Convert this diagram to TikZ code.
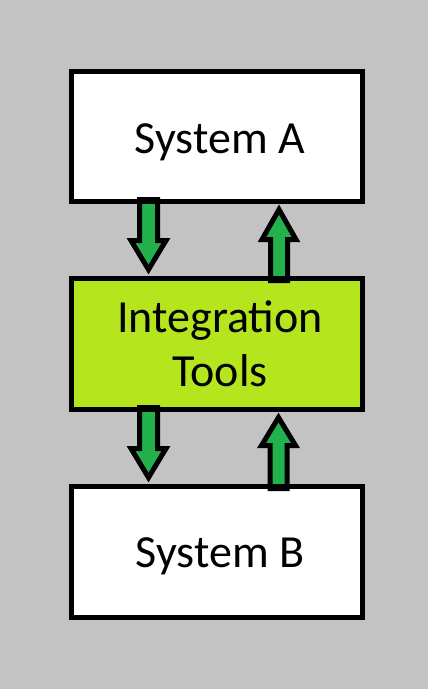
\documentclass[tikz,border=0pt]{standalone}
\usepackage{fontspec}
\setmainfont{Carlito}
\usetikzlibrary{calc}
\definecolor{bggray}{HTML}{C3C3C3}
\definecolor{arrowgreen}{HTML}{22B14C}
\definecolor{limegreen}{HTML}{B5E61D}
\tikzset{
  sysbox/.style={draw=black, line width=5pt, fill=white, minimum width=291pt,
    minimum height=131pt, inner sep=0pt, outer sep=0pt, align=center,
    font=\fontsize{46}{53}\selectfont},
  blockarrow/.style={draw=black, line width=5pt, fill=arrowgreen, line join=miter}
}
\begin{document}
\begin{tikzpicture}[x=1pt, y=-1pt]
  \fill[bggray] (0,0) rectangle (428,689);
  \useasboundingbox (0,0) rectangle (428,689);
  \node[sysbox, minimum height=130pt, text height=33pt, text depth=0pt] (A) at (217,136.5) {\hspace*{6pt}System A};
  \node[sysbox, fill=limegreen] (I) at (217,344) {\raisebox{1pt}{\hspace*{6pt}Integration}\\\hspace*{6pt}Tools};
  \node[sysbox, text height=31pt, text depth=0pt] (B) at (217,552) {\hspace*{6pt}System B};
  % anchor points of the arrows
  \coordinate (d1a) at ($(A.south)+(-68.5,0)$);
  \coordinate (d1b) at ($(I.north)+(-68.5,0)$);
  \coordinate (u1a) at ($(I.north)+(62,0)$);
  \coordinate (u1b) at ($(A.south)+(62,0)$);
  \coordinate (d2a) at ($(I.south)+(-68.5,0)$);
  \coordinate (d2b) at ($(B.north)+(-68.5,0)$);
  \coordinate (u2a) at ($(B.north)+(61.5,0)$);
  \coordinate (u2b) at ($(I.south)+(61.5,0)$);
  % down arrows
  \foreach \s/\t in {d1a/d1b, d2a/d2b}{
    \draw[blockarrow] ($(\s)+(-9,-2)$) -- ($(\s)+(-9,39)$) -- ($(\s)+(-17.5,39)$)
      -- ($(\t)+(0,-9)$) -- ($(\s)+(17.5,39)$) -- ($(\s)+(9,39)$) -- ($(\s)+(9,-2)$) -- cycle;
  }
  % up arrows
  \foreach \s/\t/\h in {u1a/u1b/38, u2a/u2b/36}{
    \draw[blockarrow] ($(\s)+(-8.5,2)$) -- ($(\t)+(-8.5,\h)$) -- ($(\t)+(-17,\h)$)
      -- ($(\t)+(0,8)$) -- ($(\t)+(17,\h)$) -- ($(\t)+(8.5,\h)$) -- ($(\s)+(8.5,2)$) -- cycle;
  }
  % redraw box outlines over arrow ends
  \draw[line width=5pt] (A.south west) -- (A.south east);
  \draw[line width=5pt] (I.north west) -- (I.north east);
  \draw[line width=5pt] (I.south west) -- (I.south east);
  \draw[line width=5pt] (B.north west) -- (B.north east);
\end{tikzpicture}
\end{document}
